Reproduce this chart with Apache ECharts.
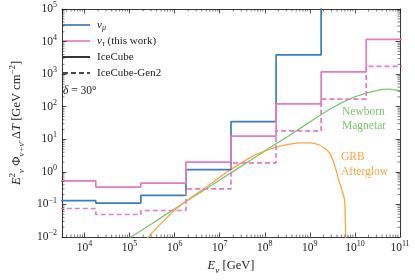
<!DOCTYPE html>
<html>
<head>
<meta charset="utf-8">
<script src="https://cdn.jsdelivr.net/npm/echarts@6/dist/echarts.min.js"></script>
<style>html,body{margin:0;padding:0;background:#fff;}#c{width:415px;height:280px;}</style>
</head>
<body>
<div id="c"></div>
<script>
// ---- data ----
const binEdges = [1778, 17783, 177828, 1778279, 17782794, 177827941, 1778279410, 17782794100, 177827941004];
const numuIceCube = [0.13, 0.11, 0.19, 1.17, 35, 3900, 1e7, 1e7];
const nutauIceCube = [0.53, 0.34, 0.45, 2.0, 12.5, 122, 1170, 11700];
const nutauGen2 = [0.075, 0.049, 0.065, 0.30, 1.9, 18, 170, 1740];
const magnetarE = [1e5, 3.16e5, 1e6, 3.16e6, 1e7, 3.16e7, 1e8, 3.16e8, 1e9, 3.16e9, 1e10, 3.16e10, 5.6e10, 1e11];
const magnetarFlux = [0.0095, 0.026, 0.074, 0.204, 0.56, 1.55, 4.4, 12.0, 34, 93, 200, 316, 347, 309];
const grbE = [2.24e5, 3.98e5, 6.31e5, 1e6, 1.78e6, 3.16e6, 5.62e6, 1e7, 1.78e7, 3.16e7, 5.62e7, 1e8, 1.78e8, 3.16e8, 5.62e8, 1e9, 1.58e9, 2.24e9, 2.82e9, 3.55e9, 4.47e9, 5.89e9, 6.31e9];
const grbFlux = [0.0079, 0.019, 0.036, 0.066, 0.126, 0.219, 0.38, 0.68, 1.2, 1.95, 3.16, 4.37, 5.75, 6.9, 7.8, 7.8, 6.8, 5.0, 3.55, 1.58, 0.5, 0.138, 0.001];
const xTickExponents = [4, 5, 6, 7, 8, 9, 10, 11];
const yTickExponents = [-2, -1, 0, 1, 2, 3, 4, 5];
const legendLabels = ['{i|ν}{sub|μ}', '{i|ν}{sub|τ}{r| (this work)}', '{r|IceCube}', '{r|IceCube-Gen2}'];
const X_MIN = 3162.2777, X_MAX = 1e11, Y_MIN = 0.01, Y_MAX = 1e5;

function stepData(vals) {
  const d = vals.map((v, i) => [binEdges[i], v]);
  d.push([binEdges[vals.length], vals[vals.length - 1]]);
  return d;
}
function zip(a, b) { return a.map((v, i) => [v, b[i]]); }

const FONT = 'Liberation Serif';
const BLUE = '#3b7dbd', PINK = '#e57bc6', GREEN = '#7cc66f', ORANGE = '#ffa53f';

function powLabel(v, allowed) {
  const e = Math.log10(v);
  const r = Math.round(e);
  if (Math.abs(e - r) > 1e-6 || allowed.indexOf(r) < 0) return '';
  return '{b|10}{s|' + (r < 0 ? '\u2212' + (-r) : r) + '}';
}
const tickRich = {
  b: { fontFamily: FONT, fontSize: 11.5, lineHeight: 16, color: '#222' },
  s: { fontFamily: FONT, fontSize: 8, lineHeight: 8, verticalAlign: 'top', color: '#222' }
};
const legendRich = {
  r: { fontFamily: FONT, fontSize: 11, lineHeight: 14, fill: '#222' },
  i: { fontFamily: FONT, fontStyle: 'italic', fontSize: 11, lineHeight: 14, fill: '#222' },
  sub: { fontFamily: FONT, fontStyle: 'italic', fontSize: 8, lineHeight: 8, verticalAlign: 'bottom', fill: '#222' }
};

const baseAxis = {
  type: 'log', logBase: 10,
  splitLine: { show: false },
  axisLine: { show: true, lineStyle: { color: '#222', width: 0.9 } },
  axisTick: { show: true, inside: true, length: 4.5, lineStyle: { color: '#222', width: 0.8 } },
  minorTick: { show: false }
};

// legend drawn as graphic (sample line + text)
const legendColors = [BLUE, PINK, '#111', '#111'];
const legendDash = [null, null, null, [5, 3]];
const legendGraphic = [];
legendLabels.forEach((lab, i) => {
  const y = 25 + i * 16;
  legendGraphic.push({ type: 'line', shape: { x1: 63, y1: y, x2: 90, y2: y },
    style: { stroke: legendColors[i], lineWidth: 1.7, lineDash: legendDash[i] } });
  legendGraphic.push({ type: 'text', x: 97, y: y, style: { text: lab, rich: legendRich, verticalAlign: 'middle', align: 'left' } });
});

const chart = echarts.init(document.getElementById('c'), null, { renderer: 'canvas' });
const option = {
  animation: false,
  backgroundColor: '#fff',
  grid: { left: 57, right: 15, top: 9, bottom: 43 },
  xAxis: [
    Object.assign({}, baseAxis, {
      min: X_MIN, max: X_MAX, position: 'bottom',
      axisLabel: { margin: 3, formatter: v => powLabel(v, xTickExponents), rich: tickRich },
      name: '{i|E}{sub|ν} {r|[GeV]}', nameLocation: 'middle', nameGap: 20,
      nameTextStyle: { rich: {
        i: { fontFamily: FONT, fontStyle: 'italic', fontSize: 12.5, lineHeight: 18, color: '#222' },
        r: { fontFamily: FONT, fontSize: 12.5, lineHeight: 18, color: '#222' },
        sub: { fontFamily: FONT, fontStyle: 'italic', fontSize: 9, lineHeight: 9, verticalAlign: 'bottom', color: '#222' }
      } }
    }),
    Object.assign({}, baseAxis, { min: X_MIN, max: X_MAX, position: 'top', axisLabel: { show: false } })
  ],
  yAxis: [
    Object.assign({}, baseAxis, {
      min: Y_MIN, max: Y_MAX, position: 'left',
      axisLabel: { margin: 5, formatter: v => powLabel(v, yTickExponents), rich: tickRich },
      name: '{i|E}{sup|2}{sub|ν} {r|Φ}{sub|ν+ν̄} {r|Δ}{i|T} {r|[GeV cm}{sup|−2}{r|]}',
      nameLocation: 'middle', nameGap: 36, nameRotate: 90,
      nameTextStyle: { rich: {
        i: { fontFamily: FONT, fontStyle: 'italic', fontSize: 12.5, lineHeight: 18, color: '#222' },
        r: { fontFamily: FONT, fontSize: 12.5, lineHeight: 18, color: '#222' },
        sup: { fontFamily: FONT, fontSize: 9, lineHeight: 9, verticalAlign: 'top', color: '#222' },
        sub: { fontFamily: FONT, fontStyle: 'italic', fontSize: 9, lineHeight: 9, verticalAlign: 'bottom', color: '#222' }
      } }
    }),
    Object.assign({}, baseAxis, { min: Y_MIN, max: Y_MAX, position: 'right', axisLabel: { show: false } })
  ],
  graphic: legendGraphic.concat([
    { type: 'text', x: 63, y: 91, style: { text: '{i|δ}{r| = 30°}', verticalAlign: 'middle', rich: {
      i: { fontFamily: FONT, fontStyle: 'italic', fontSize: 11.5, fill: '#222' },
      r: { fontFamily: FONT, fontSize: 11.5, fill: '#222' } } } },
    { type: 'text', left: 342, top: 105, style: { text: 'Newborn\nMagnetar', fontFamily: FONT, fontSize: 11.5, lineHeight: 14, fill: GREEN } },
    { type: 'text', left: 341, top: 149, style: { text: 'GRB\nAfterglow', fontFamily: FONT, fontSize: 11.5, lineHeight: 15, fill: ORANGE } }
  ]),
  series: [
    { name: 'numu', type: 'line', step: 'end', data: stepData(numuIceCube), symbol: 'none', color: BLUE, lineStyle: { color: BLUE, width: 1.7 }, z: 3 },
    { name: 'nutau', type: 'line', step: 'end', data: stepData(nutauIceCube), symbol: 'none', color: PINK, lineStyle: { color: PINK, width: 1.7 }, z: 3 },
    { name: 'nutauGen2', type: 'line', step: 'end', data: stepData(nutauGen2), symbol: 'none', color: PINK, lineStyle: { color: PINK, width: 1.7, type: [5, 3] }, z: 3 },
    { name: 'magnetar', type: 'line', data: zip(magnetarE, magnetarFlux), symbol: 'none', smooth: 0.3, color: GREEN, lineStyle: { color: GREEN, width: 1.3 }, z: 2 },
    { name: 'grb', type: 'line', data: zip(grbE, grbFlux), symbol: 'none', smooth: 0.2, color: ORANGE, lineStyle: { color: ORANGE, width: 1.3 }, z: 2 },
    {
      name: 'minorTicks', type: 'custom', clip: false, silent: true, z: 5,
      data: [[X_MIN, Y_MIN]],
      renderItem: function (params, api) {
        const ch = [];
        const st = { stroke: '#222', lineWidth: 0.6 };
        const L = 2.5;
        for (let n = 3; n <= 10; n++) for (let k = 2; k <= 9; k++) {
          const v = k * Math.pow(10, n);
          if (v < X_MIN || v > X_MAX) continue;
          const b = api.coord([v, Y_MIN]), t = api.coord([v, Y_MAX]);
          ch.push({ type: 'line', shape: { x1: b[0], y1: b[1], x2: b[0], y2: b[1] - L }, style: st });
          ch.push({ type: 'line', shape: { x1: t[0], y1: t[1], x2: t[0], y2: t[1] + L }, style: st });
        }
        for (let n = -2; n <= 4; n++) for (let k = 2; k <= 9; k++) {
          const v = k * Math.pow(10, n);
          if (v < Y_MIN || v > Y_MAX) continue;
          const l = api.coord([X_MIN, v]), r = api.coord([X_MAX, v]);
          ch.push({ type: 'line', shape: { x1: l[0], y1: l[1], x2: l[0] + L, y2: l[1] }, style: st });
          ch.push({ type: 'line', shape: { x1: r[0], y1: r[1], x2: r[0] - L, y2: r[1] }, style: st });
        }
        return { type: 'group', children: ch };
      }
    }
  ]
};
chart.setOption(option);
</script>
</body>
</html>
